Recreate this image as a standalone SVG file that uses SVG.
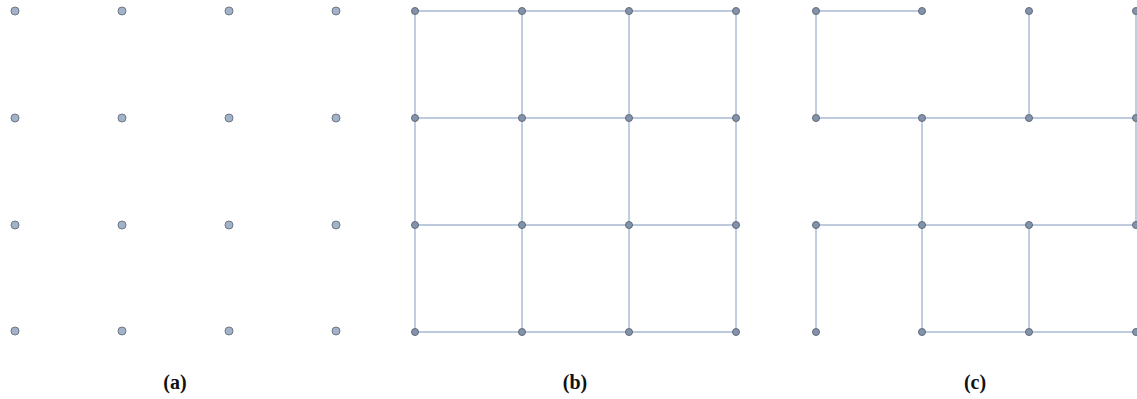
<svg xmlns="http://www.w3.org/2000/svg" width="1137" height="399" viewBox="0 0 1137 399">
<style>
.dotA{fill:#a2b2c8;stroke:#6e7887;stroke-width:1}
.dot{fill:#8393ab;stroke:#606b7a;stroke-width:1}
.edge{stroke:#a8b8d2;stroke-width:1.4;fill:none}
.lbl{font-family:"Liberation Serif","DejaVu Serif",serif;font-weight:bold;font-size:20px;fill:#111;text-anchor:middle}
</style>
<rect width="1137" height="399" fill="#ffffff"/>
<g id="connectors">
<g id="edges-b" class="edge">
<path d="M415 11H736M415 118H736M415 225H736M415 332H736"/>
<path d="M415 11V332M522 11V332M629 11V332M736 11V332"/>
</g>
<g id="edges-c" class="edge">
<path d="M816 11H922"/>
<path d="M816 11V118M1029 11V118M1136 11V118"/>
<path d="M816 118H1136"/>
<path d="M922 118V225M1136 118V225"/>
<path d="M816 225H1136"/>
<path d="M816 225V332M922 225V332M1029 225V332"/>
<path d="M922 332H1136"/>
</g>
</g>
<g id="nodes-a">
<g id="a00"><circle class="dotA" cx="15" cy="11" r="4"/></g>
<g id="a01"><circle class="dotA" cx="122" cy="11" r="4"/></g>
<g id="a02"><circle class="dotA" cx="229" cy="11" r="4"/></g>
<g id="a03"><circle class="dotA" cx="336" cy="11" r="4"/></g>
<g id="a10"><circle class="dotA" cx="15" cy="118" r="4"/></g>
<g id="a11"><circle class="dotA" cx="122" cy="118" r="4"/></g>
<g id="a12"><circle class="dotA" cx="229" cy="118" r="4"/></g>
<g id="a13"><circle class="dotA" cx="336" cy="118" r="4"/></g>
<g id="a20"><circle class="dotA" cx="15" cy="225" r="4"/></g>
<g id="a21"><circle class="dotA" cx="122" cy="225" r="4"/></g>
<g id="a22"><circle class="dotA" cx="229" cy="225" r="4"/></g>
<g id="a23"><circle class="dotA" cx="336" cy="225" r="4"/></g>
<g id="a30"><circle class="dotA" cx="15" cy="331" r="4"/></g>
<g id="a31"><circle class="dotA" cx="122" cy="331" r="4"/></g>
<g id="a32"><circle class="dotA" cx="229" cy="331" r="4"/></g>
<g id="a33"><circle class="dotA" cx="336" cy="331" r="4"/></g>
</g>
<g id="nodes-b">
<g id="b00"><circle class="dot" cx="415" cy="11" r="3.5"/></g>
<g id="b01"><circle class="dot" cx="522" cy="11" r="3.5"/></g>
<g id="b02"><circle class="dot" cx="629" cy="11" r="3.5"/></g>
<g id="b03"><circle class="dot" cx="736" cy="11" r="3.5"/></g>
<g id="b10"><circle class="dot" cx="415" cy="118" r="3.5"/></g>
<g id="b11"><circle class="dot" cx="522" cy="118" r="3.5"/></g>
<g id="b12"><circle class="dot" cx="629" cy="118" r="3.5"/></g>
<g id="b13"><circle class="dot" cx="736" cy="118" r="3.5"/></g>
<g id="b20"><circle class="dot" cx="415" cy="225" r="3.5"/></g>
<g id="b21"><circle class="dot" cx="522" cy="225" r="3.5"/></g>
<g id="b22"><circle class="dot" cx="629" cy="225" r="3.5"/></g>
<g id="b23"><circle class="dot" cx="736" cy="225" r="3.5"/></g>
<g id="b30"><circle class="dot" cx="415" cy="332" r="3.5"/></g>
<g id="b31"><circle class="dot" cx="522" cy="332" r="3.5"/></g>
<g id="b32"><circle class="dot" cx="629" cy="332" r="3.5"/></g>
<g id="b33"><circle class="dot" cx="736" cy="332" r="3.5"/></g>
</g>
<g id="nodes-c">
<g id="c00"><circle class="dot" cx="816" cy="11" r="3.5"/></g>
<g id="c01"><circle class="dot" cx="922" cy="11" r="3.5"/></g>
<g id="c02"><circle class="dot" cx="1029" cy="11" r="3.5"/></g>
<g id="c03"><circle class="dot" cx="1136" cy="11" r="3.5"/></g>
<g id="c10"><circle class="dot" cx="816" cy="118" r="3.5"/></g>
<g id="c11"><circle class="dot" cx="922" cy="118" r="3.5"/></g>
<g id="c12"><circle class="dot" cx="1029" cy="118" r="3.5"/></g>
<g id="c13"><circle class="dot" cx="1136" cy="118" r="3.5"/></g>
<g id="c20"><circle class="dot" cx="816" cy="225" r="3.5"/></g>
<g id="c21"><circle class="dot" cx="922" cy="225" r="3.5"/></g>
<g id="c22"><circle class="dot" cx="1029" cy="225" r="3.5"/></g>
<g id="c23"><circle class="dot" cx="1136" cy="225" r="3.5"/></g>
<g id="c30"><circle class="dot" cx="816" cy="332" r="3.5"/></g>
<g id="c31"><circle class="dot" cx="922" cy="332" r="3.5"/></g>
<g id="c32"><circle class="dot" cx="1029" cy="332" r="3.5"/></g>
<g id="c33"><circle class="dot" cx="1136" cy="332" r="3.5"/></g>
</g>
<g id="labels">
<text class="lbl" x="175" y="389">(a)</text>
<text class="lbl" x="575" y="389">(b)</text>
<text class="lbl" x="975" y="389">(c)</text>
</g>
</svg>
